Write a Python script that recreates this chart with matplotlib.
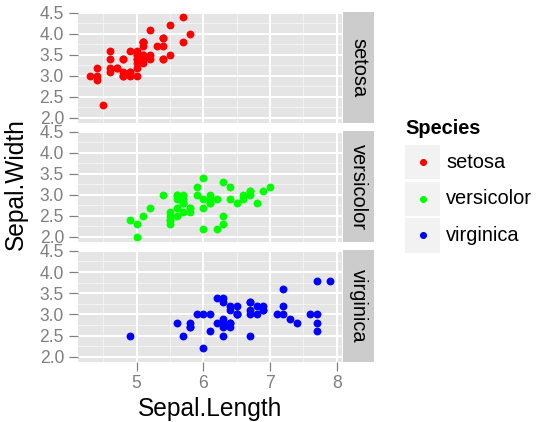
import matplotlib
matplotlib.use("Agg")
import matplotlib.pyplot as plt
from matplotlib.patches import Rectangle
import numpy as np

plt.rcParams['font.family'] = ['Liberation Sans', 'DejaVu Sans']

species = ["setosa", "versicolor", "virginica"]
colors = ["#FF0000", "#00FF00", "#0000FF"]

setosa_sl = [5.1,4.9,4.7,4.6,5.0,5.4,4.6,5.0,4.4,4.9,5.4,4.8,4.8,4.3,5.8,5.7,5.4,5.1,5.7,5.1,5.4,5.1,4.6,5.1,4.8,5.0,5.0,5.2,5.2,4.7,4.8,5.4,5.2,5.5,4.9,5.0,5.5,4.9,4.4,5.1,5.0,4.5,4.4,5.0,5.1,4.8,5.1,4.6,5.3,5.0]
setosa_sw = [3.5,3.0,3.2,3.1,3.6,3.9,3.4,3.4,2.9,3.1,3.7,3.4,3.0,3.0,4.0,4.4,3.9,3.5,3.8,3.8,3.4,3.7,3.6,3.3,3.4,3.0,3.4,3.5,3.4,3.2,3.1,3.4,4.1,4.2,3.1,3.2,3.5,3.6,3.0,3.4,3.5,2.3,3.2,3.5,3.8,3.0,3.8,3.2,3.7,3.3]
versicolor_sl = [7.0,6.4,6.9,5.5,6.5,5.7,6.3,4.9,6.6,5.2,5.0,5.9,6.0,6.1,5.6,6.7,5.6,5.8,6.2,5.6,5.9,6.1,6.3,6.1,6.4,6.6,6.8,6.7,6.0,5.7,5.5,5.5,5.8,6.0,5.4,6.0,6.7,6.3,5.6,5.5,5.5,6.1,5.8,5.0,5.6,5.7,5.7,6.2,5.1,5.7]
versicolor_sw = [3.2,3.2,3.1,2.3,2.8,2.8,3.3,2.4,2.9,2.7,2.0,3.0,2.2,2.9,2.9,3.1,3.0,2.7,2.2,2.5,3.2,2.8,2.5,2.8,2.9,3.0,2.8,3.0,2.9,2.6,2.4,2.4,2.7,2.7,3.0,3.4,3.1,2.3,3.0,2.5,2.6,3.0,2.6,2.3,2.7,3.0,2.9,2.9,2.5,2.8]
virginica_sl = [6.3,5.8,7.1,6.3,6.5,7.6,4.9,7.3,6.7,7.2,6.5,6.4,6.8,5.7,5.8,6.4,6.5,7.7,7.7,6.0,6.9,5.6,7.7,6.3,6.7,7.2,6.2,6.1,6.4,7.2,7.4,7.9,6.4,6.3,6.1,7.7,6.3,6.4,6.0,6.9,6.7,6.9,5.8,6.8,6.7,6.7,6.3,6.5,6.2,5.9]
virginica_sw = [3.3,2.7,3.0,2.9,3.0,3.0,2.5,2.9,2.5,3.6,3.2,2.7,3.0,2.5,2.8,3.2,3.0,3.8,2.6,2.2,3.2,2.8,2.8,2.7,3.3,3.2,2.8,3.0,2.8,3.0,2.8,3.8,2.8,2.8,2.6,3.0,3.4,3.1,3.0,3.1,3.1,3.1,2.7,3.2,3.3,3.0,2.5,3.0,3.4,3.0]

xs = [setosa_sl, versicolor_sl, virginica_sl]
ys = [setosa_sw, versicolor_sw, virginica_sw]

x_ticks = [5, 6, 7, 8]
y_ticks = [2.0, 2.5, 3.0, 3.5, 4.0, 4.5]
y_tick_labels = ["2.0", "2.5", "3.0", "3.5", "4.0", "4.5"]

W, H = 538, 422
fig = plt.figure(figsize=(W/72, H/72), dpi=72)

grey50 = "#7F7F7F"
panel_left, panel_right = 78, 342
strip_right = 374
panels_y = [(12, 123), (131, 242), (250, 362)]

allx = sum(xs, [])
ally = sum(ys, [])
xr = max(allx) - min(allx)
yr = max(ally) - min(ally)
xlim = (min(allx) - 0.05*xr, max(allx) + 0.05*xr)
ylim = (min(ally) - 0.05*yr, max(ally) + 0.05*yr)

def fc(x0, y0, x1, y1):
    return [x0/W, 1 - y1/H, (x1-x0)/W, (y1-y0)/H]

for i, (sp, col) in enumerate(zip(species, colors)):
    t, b = panels_y[i]
    ax = fig.add_axes(fc(panel_left, t, panel_right, b))
    ax.set_facecolor("#E5E5E5")
    ax.set_xlim(xlim)
    ax.set_ylim(ylim)
    for xm in [4.5, 5.5, 6.5, 7.5]:
        ax.axvline(xm, color="#F2F2F2", lw=1.0, zorder=0)
    for ym in [2.25, 2.75, 3.25, 3.75, 4.25]:
        ax.axhline(ym, color="#F2F2F2", lw=1.0, zorder=0)
    for xm in x_ticks:
        ax.axvline(xm, color="white", lw=2.0, zorder=0.5)
    for ym in y_ticks:
        ax.axhline(ym, color="white", lw=2.0, zorder=0.5)
    ax.scatter(xs[i], ys[i], s=62, color=col, linewidths=0, zorder=3)
    for s in ax.spines.values():
        s.set_visible(False)
    ax.set_yticks(y_ticks)
    ax.set_yticklabels(y_tick_labels)
    ax.set_xticks(x_ticks)
    ax.tick_params(axis='both', colors=grey50, labelcolor=grey50, labelsize=17.5,
                   length=9, width=1.2, pad=5)
    ax.tick_params(axis='y', pad=5)
    if i < 2:
        ax.tick_params(axis='x', labelbottom=False, length=0)
    else:
        ax.set_xticklabels([str(v) for v in x_ticks])
        ax.tick_params(axis='x', pad=4)
    # strip
    sax = fig.add_axes(fc(panel_right + 1, t, strip_right, b))
    sax.set_facecolor("#CCCCCC")
    sax.set_xticks([]); sax.set_yticks([])
    for s in sax.spines.values():
        s.set_visible(False)
    sax.text(0.5, 0.5, sp, rotation=-90, ha='center', va='center', fontsize=20,
             color="black", transform=sax.transAxes)

fig.text(210/W, 1 - 409/H, "Sepal.Length", fontsize=24.5, ha='center', va='center')
fig.text(16/W, 1 - 184/H, "Sepal.Width", fontsize=24.5, ha='center', va='center', rotation=90)

# legend
fig.text(405/W, 1 - 128/H, "Species", fontsize=20, fontweight='bold', ha='left', va='center')
key_rows = [(145, 179), (182, 216), (218, 253)]
for (t, b), sp, col in zip(key_rows, species, colors):
    fig.patches.append(Rectangle((405/W, 1 - b/H), 35/W, (b-t)/H, transform=fig.transFigure,
                                 facecolor="#F2F2F2", edgecolor="none"))
    fig.add_artist(plt.Line2D([422.5/W], [1 - (t+b)/2/H], marker='o', markersize=6,
                              color=col, linestyle='none', transform=fig.transFigure))
    fig.text(446/W, 1 - (t+b)/2/H, sp, fontsize=20, ha='left', va='center')

fig.savefig("out.png", dpi=72)
